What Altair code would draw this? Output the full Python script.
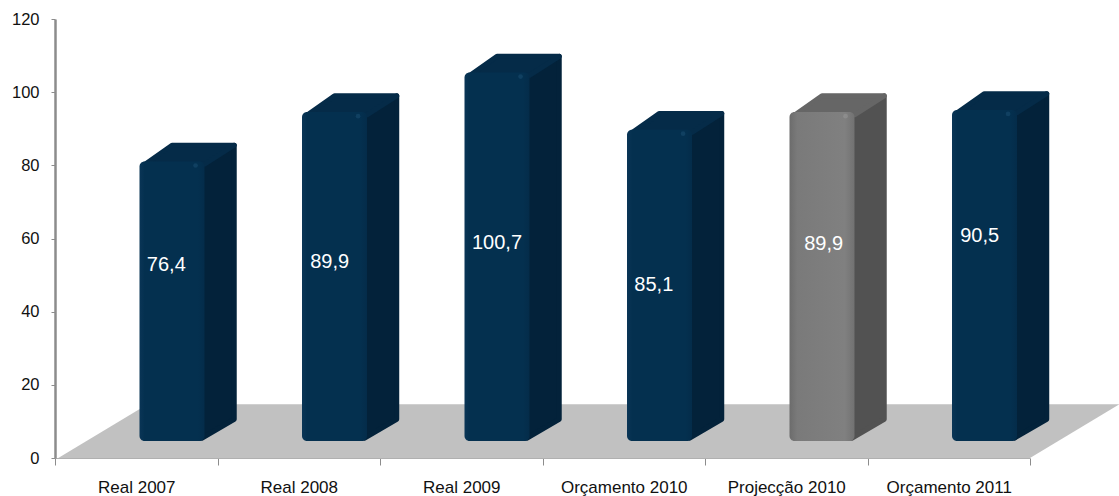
import altair as alt
import pandas as pd

categories = ["Real 2007", "Real 2008", "Real 2009", "Orçamento 2010", "Projecção 2010", "Orçamento 2011"]
values = [76.4, 89.9, 100.7, 85.1, 89.9, 90.5]
series = ["blue", "blue", "blue", "blue", "grey", "blue"]
y_ticks = [0, 20, 40, 60, 80, 100, 120]

# hand-placed value labels, in axis units
label_x = [0.685, 1.69, 2.72, 3.685, 4.73, 5.69]
label_y = [52.8, 53.6, 58.8, 47.3, 58.5, 60.7]

# pseudo-3D geometry, in axis units
BAR_LEFT, BAR_W = 0.52, 0.40
DX, DY = 0.20, 5.2
BASE = 4.65
FLOOR_H = 14.7
FLOOR_SKEW = 0.55
X_END = len(categories)
# the face outlines are stroked wide with round joins, so the faces sit inset by half a stroke
IN_X, IN_Y = 0.017, 0.75

fronts, sides, tops, glints = [], [], [], []
for i, (v, s) in enumerate(zip(values, series)):
    x0 = i + BAR_LEFT
    x1 = x0 + BAR_W
    t = BASE + v
    fronts.append(dict(x=x0, x2=x1, y=BASE, y2=t, s=s))
    glints.append(dict(x=x1 - 0.055, y=t - 1.1, s=s))
    sides.append(dict(k=i, s=s, x=x1 - IN_X, y=BASE + IN_Y, y2=t - IN_Y))
    sides.append(dict(k=i, s=s, x=x1 + DX - IN_X, y=BASE + DY + IN_Y, y2=t + DY - IN_Y))
    tops.append(dict(k=i, s=s, x=x0 + 2 * IN_X, y=t - IN_Y, y2=t - IN_Y))
    tops.append(dict(k=i, s=s, x=x0 + DX, y=t - IN_Y, y2=t + DY - IN_Y))
    tops.append(dict(k=i, s=s, x=x1, y=t - IN_Y, y2=t + DY - IN_Y))
    tops.append(dict(k=i, s=s, x=x1 + DX - IN_X, y=t + DY - IN_Y, y2=t + DY - IN_Y))

floor = pd.DataFrame([
    dict(x=0.02, y=0, y2=0),
    dict(x=0.02 + FLOOR_SKEW, y=0, y2=FLOOR_H),
    dict(x=X_END, y=0, y2=FLOOR_H),
    dict(x=X_END + FLOOR_SKEW, y=FLOOR_H, y2=FLOOR_H),
])
labels = pd.DataFrame(dict(
    x=label_x, y=label_y,
    t=[f"{v:.1f}".replace(".", ",") for v in values],
))

FONT = "Liberation Sans"
names_js = "[" + ",".join(f"'{c}'" for c in categories) + "]"

x_scale = alt.Scale(domain=[0, X_END], nice=False, zero=False)
y_scale = alt.Scale(domain=[0, 120], nice=False)

x_axis = alt.Axis(
    values=[k / 2 for k in range(2 * X_END + 1)],
    labelExpr=f"datum.value % 1 == 0.5 ? {names_js}[floor(datum.value)] : ''",
    tickOpacity=alt.condition("datum.value % 1 == 0", alt.value(1), alt.value(0)),
    title=None, grid=False, labelFont=FONT, labelFontSize=17, labelColor="#111111",
    domainColor="#b0b0b0", domainWidth=1, tickColor="#8c8c8c", tickSize=7,
    labelPadding=14, labelFlush=False, labelOverlap=False, labelAngle=0,
)
y_axis = alt.Axis(
    values=y_ticks, title=None, grid=False, labelFont=FONT, labelFontSize=16.5,
    labelColor="#111111", domainColor="#8c8c8c", domainWidth=2.5,
    tickColor="#8c8c8c", tickSize=4, labelPadding=12,
)
X = alt.X("x:Q", scale=x_scale, axis=x_axis)
Y = alt.Y("y:Q", scale=y_scale, axis=y_axis)


def shade(stops):
    return alt.Gradient(
        gradient="linear", x1=0, x2=1, y1=0, y2=0,
        stops=[alt.GradientStop(color=c, offset=o) for o, c in stops],
    )


side_colors = alt.Scale(domain=["blue", "grey"], range=["#03223a", "#525252"])
top_colors = alt.Scale(domain=["blue", "grey"], range=["#052b48", "#666666"])
glint_colors = alt.Scale(domain=["blue", "grey"], range=["#1c4f74", "#9a9a9a"])

floor_layer = alt.Chart(floor).mark_area(color="#c1c1c1").encode(
    x=X, y=Y, y2="y2:Q"
)


def face(rows, colors):
    return alt.Chart(pd.DataFrame(rows)).mark_area(strokeWidth=5, strokeJoin="round").encode(
        x=X, y=Y, y2="y2:Q", detail="k:N",
        color=alt.Color("s:N", scale=colors, legend=None),
        stroke=alt.Stroke("s:N", scale=colors, legend=None),
    )


front_data = pd.DataFrame(fronts)


def front(kind, stops):
    return alt.Chart(front_data).transform_filter(alt.datum.s == kind).mark_bar(
        cornerRadius=5, color=shade(stops)
    ).encode(x=X, x2="x2:Q", y=Y, y2="y2:Q")


blue_front = front("blue", [(0, "#0a3556"), (0.08, "#04304f"), (0.9, "#04304f"), (1, "#042c4a")])
grey_front = front("grey", [(0, "#6c6c6c"), (0.12, "#7a7a7a"), (0.85, "#808080"), (1, "#727272")])

glint_layer = alt.Chart(pd.DataFrame(glints)).mark_circle(size=22, opacity=0.5).encode(
    x=X, y=Y, color=alt.Color("s:N", scale=glint_colors, legend=None)
)

text_layer = alt.Chart(labels).mark_text(
    color="white", font=FONT, fontSize=20, align="center", baseline="middle"
).encode(x=X, y=Y, text="t:N")

chart = alt.layer(
    floor_layer,
    face(sides, side_colors),
    face(tops, top_colors),
    blue_front, grey_front, glint_layer, text_layer,
).resolve_scale(color="independent", stroke="independent").properties(
    width=975, height=439,
    autosize=alt.AutoSizeParams(type="none"),
    padding={"left": 55, "top": 19, "right": 89, "bottom": 38},
    background="white",
).configure_view(stroke=None)

chart.save("out.html", embed_options={"renderer": "svg", "actions": False})
